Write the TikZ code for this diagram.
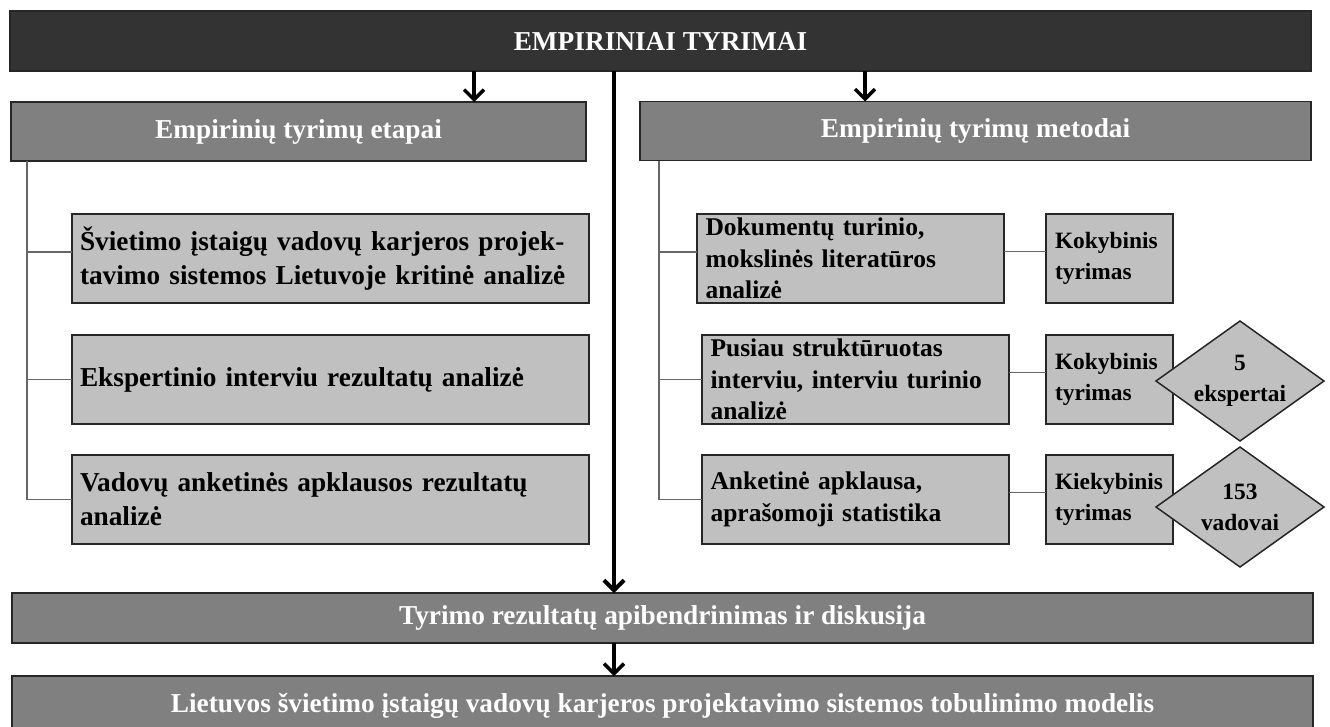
\documentclass[tikz,border=0pt]{standalone}
\usepackage{fontspec}
\setmainfont{Liberation Serif}
\usetikzlibrary{arrows.meta,shapes.geometric}
\definecolor{barDark}{HTML}{333333}
\definecolor{barGray}{HTML}{808080}
\definecolor{boxGray}{HTML}{C0C0C0}
\newcommand\bigtxt{\fontsize{27.3}{34}\selectfont\bfseries}
\newcommand\midtxt{\fontsize{25.5}{31.5}\selectfont\bfseries}
\newcommand\smalltxt{\fontsize{23.4}{31}\selectfont\bfseries}
\begin{document}
\begin{tikzpicture}[x=1pt,y=-1pt,
  every node/.style={outer sep=0pt},
  bar/.style={draw=black!85,line width=1.8pt,text=white,font=\bigtxt,minimum height=59pt,inner sep=0pt},
  stagebox/.style={draw=black!85,fill=boxGray,line width=1.5pt,font=\bigtxt,align=left,text width=501pt,minimum width=517pt,minimum height=89pt,inner xsep=8pt,inner ysep=0pt},
  methodbox/.style={draw=black!85,fill=boxGray,line width=1.5pt,font=\midtxt,align=left,text width=290pt,minimum width=307pt,minimum height=89pt,inner xsep=8.5pt,inner ysep=0pt},
  kindbox/.style={draw=black!85,fill=boxGray,line width=1.5pt,font=\smalltxt,align=left,text width=109pt,minimum width=127pt,minimum height=89pt,inner xsep=9pt,inner ysep=0pt},
  samplebox/.style={diamond,draw=black!85,fill=boxGray,line width=1.5pt,minimum width=168pt,minimum height=120pt,inner sep=0pt},
  sampletext/.style={font=\smalltxt,align=center,inner sep=0pt},
  tree/.style={draw=black!60,line width=1.5pt},
  arr/.style={line width=3.5pt,-{Straight Barb[length=10pt,width=20pt]}}]
\clip (0,0) rectangle (1330,726);
\fill[white] (0,0) rectangle (1330,726);

% top
\node[bar,fill=barDark,minimum width=1301pt,minimum height=60pt] (top) at (660.5,41) {EMPIRINIAI TYRIMAI};
\node[bar,fill=barGray,minimum width=575pt] (lhead) at (298.5,131.5) {Empirinių tyrimų etapai};
\node[bar,fill=barGray,minimum width=671pt] (rhead) at (975.5,131) {Empirinių tyrimų metodai};

% stages
\node[stagebox] (lb1) at (330.5,258.5) {Švietimo įstaigų vadovų karjeros projek-\\tavimo sistemos Lietuvoje kritinė analizė};
\node[stagebox] (lb2) at (330.5,379.5) {Ekspertinio interviu rezultatų analizė};
\node[stagebox] (lb3) at (330.5,499.5) {Vadovų anketinės apklausos rezultatų\\analizė};

% methods
\node[methodbox] (rb1) at (850.5,258.5) {Dokumentų turinio,\\mokslinės literatūros\\analizė};
\node[methodbox] (rb2) at (855.5,379.5) {Pusiau struktūruotas\\interviu, interviu turinio\\analizė};
\node[methodbox] (rb3) at (855.5,499.5) {Anketinė apklausa,\\aprašomoji statistika};
\node[kindbox] (tb1) at (1109.5,258.5) {Kokybinis\\tyrimas};
\node[kindbox] (tb2) at (1109.5,379.5) {Kokybinis\\tyrimas};
\node[kindbox] (tb3) at (1109.5,499.5) {Kiekybinis\\tyrimas};
\node[samplebox] (sb2) at (1240,381) {};
\node[sampletext] (sb2t) at (sb2) {5\\ekspertai};
\node[samplebox] (sb3) at (1240,507) {};
\node[sampletext] (sb3t) at (sb3) {153\\vadovai};

% bottom
\node[bar,fill=barGray,minimum width=1301pt,minimum height=50pt] (res) at (662.5,618) {Tyrimo rezultatų apibendrinimas ir diskusija};
\node[bar,fill=barGray,minimum width=1301pt,minimum height=60pt] (model) at (662.5,706) {Lietuvos švietimo įstaigų vadovų karjeros projektavimo sistemos tobulinimo modelis};

% connectors
\coordinate (lx) at (474,0);
\coordinate (rx) at (865,0);
\coordinate (mx) at (614,0);
\coordinate (lt) at (27,0);
\coordinate (rt) at (659,0);
\coordinate (lb1c) at ([yshift=6.5pt]lb1.west);
\coordinate (rb1c) at ([yshift=6.5pt]rb1.west);
\draw[arr] (top.south -| lx) -- (lhead.north -| lx);
\draw[arr] (top.south -| rx) -- (rhead.north -| rx);
\draw[arr,line width=4pt] (top.south -| mx) -- (res.north -| mx);
\draw[arr] (res.south -| mx) -- (model.north -| mx);

\draw[tree] (lhead.south -| lt) |- (lb3.west);
\draw[tree] (lt |- lb2.west) -- (lb2.west);
\draw[tree] (lt |- lb1c) -- (lb1c);
\draw[tree] (rhead.south -| rt) |- (rb3.west);
\draw[tree] (rt |- rb2.west) -- (rb2.west);
\draw[tree] (rt |- rb1c) -- (rb1c);
\foreach \i in {1,2,3}
  \draw[tree] ([yshift=7pt]rb\i.east) -- ([yshift=7pt]tb\i.west);
\end{tikzpicture}
\end{document}
